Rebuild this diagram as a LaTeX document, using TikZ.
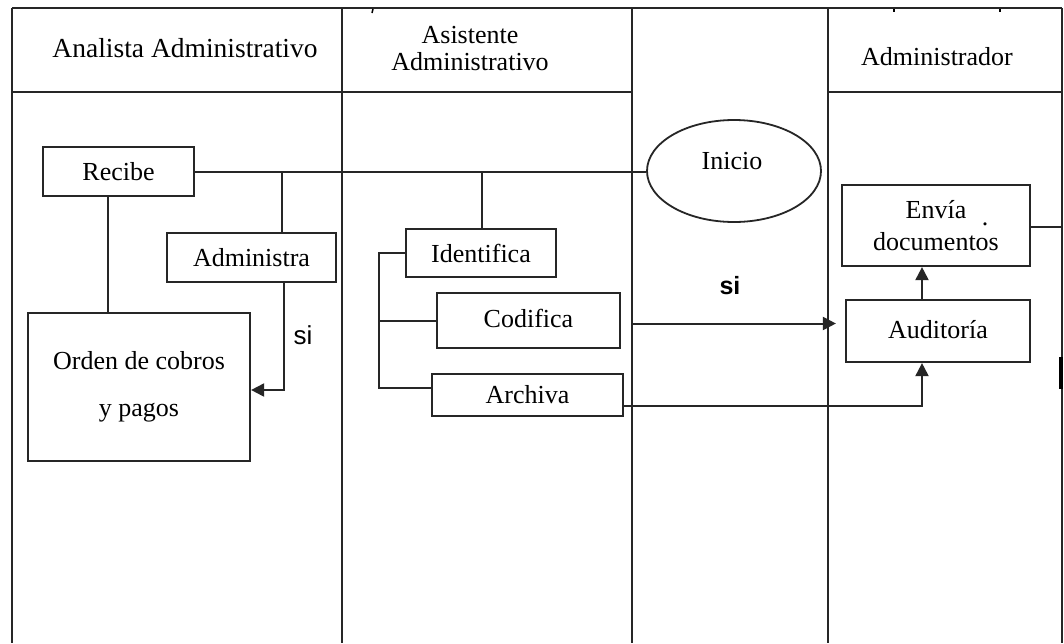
\documentclass[tikz,border=0pt]{standalone}
\usepackage{fontspec}
\setmainfont{Liberation Serif}
\newfontfamily\arialfont{Liberation Sans}
\usetikzlibrary{arrows.meta,shapes.geometric}
\begin{document}
\begin{tikzpicture}[x=1pt,y=-1pt,
  lane/.style={line width=2.2pt,black!85},
  conn/.style={line width=2pt,black!85},
  arr/.style={conn,-{Triangle[length=13pt,width=13pt]}},
  box/.style={draw=black!85,line width=2.2pt,rectangle,inner sep=0pt,
    font=\fontsize{26}{30}\selectfont,align=center},
  head/.style={font=\fontsize{26}{27}\selectfont,align=center,inner sep=0pt},
  silbl/.style={font=\arialfont\fontsize{26}{28}\selectfont,inner sep=0pt}
]
\useasboundingbox (0,0) rectangle (1064,643);
\fill[white] (0,0) rectangle (1064,643);

% lanes
\draw[lane] (12,8) -- (1062,8);
\foreach \x in {12,342,632,828,1062} \draw[lane] (\x,8) -- (\x,643);
\draw[lane] (12,92) -- (632,92);
\draw[lane] (828,92) -- (1062,92);
\draw[line width=4pt] (1061,357) -- (1061,389);
% small ticks at top
\draw[line width=1.5pt] (373,9) -- (372,13);
\draw[line width=1.5pt] (894,9) -- (894,12);
\draw[line width=1.5pt] (1000,9) -- (1000,12);

% headers
\node[head,font=\fontsize{27.5}{28}\selectfont] (h1) at (185,48) {Analista Administrativo};
\node[head] (h2) at (470,49) {Asistente\\Administrativo};
\node[head] (h4) at (937,57) {Administrador};

% nodes
\node[box,minimum width=151pt,minimum height=49pt] (recibe) at (118.5,171.5) {Recibe};
\node[box,minimum width=169pt,minimum height=49pt] (administra) at (251.5,257.5) {Administra};
\node[box,minimum width=222pt,minimum height=148pt,font=\fontsize{26}{47}\selectfont] (orden) at (139,387) {Orden de cobros\\y pagos};
\node[box,minimum width=150pt,minimum height=48pt] (identifica) at (481,253) {Identifica};
\node[box,minimum width=183pt,minimum height=55pt] (codifica) at (528.5,320.5) {\raisebox{4pt}{Codifica}};
\node[box,minimum width=191pt,minimum height=42pt] (archiva) at (527.5,395) {Archiva};
\node[draw=black!85,line width=1.8pt,ellipse,minimum width=174pt,minimum height=102pt,inner sep=0pt] (inicio) at (734,171) {};
\node[inner sep=0pt,font=\fontsize{26}{30}\selectfont] (iniciotxt) at (732,161) {Inicio};
\node[box,minimum width=188pt,minimum height=81pt,font=\fontsize{26}{32}\selectfont] (envia) at (936,225.5) {Envía\\documentos};
\node[inner sep=0pt,font=\fontsize{26}{30}\selectfont] (dot) at (985,224) {.};
\node[box,minimum width=184pt,minimum height=62pt] (auditoria) at (938,331) {\raisebox{4pt}{Auditoría}};

% labels
\node[silbl] (si1) at (303,335) {si};
\node[silbl,font=\arialfont\bfseries\fontsize{25}{28}\selectfont] (si2) at (730,286) {si};

% connectors
\draw[conn] (recibe.east |- 0,172) -- (inicio.west |- 0,172);
\coordinate (j1) at (282,172);
\coordinate (j2) at (482,172);
\draw[conn] (j1) -- (j1 |- administra.north);
\draw[conn] (j2) -- (j2 |- identifica.north);
\draw[conn] ([xshift=-10.5pt]recibe.south) -- ([xshift=-10.5pt]recibe.south |- orden.north);
\draw[arr] ([xshift=32.5pt]administra.south) |- ([yshift=-3pt]orden.east);
\draw[conn] (identifica.west) -- ++(-26,0) coordinate (b1) |- ([yshift=7pt]archiva.west);
\draw[conn] (b1 |- codifica.west) -- (codifica.west);
\coordinate (c1) at (633,323.5);
\draw[arr,shorten >=9pt] (c1) -- (c1 -| auditoria.west);
\draw[arr] ([yshift=-11pt]archiva.east) -| ([xshift=-16pt]auditoria.south);
\draw[arr] ([xshift=-16pt]auditoria.north) -- ([xshift=-16pt]auditoria.north |- envia.south);
\coordinate (e1) at (1062,227);
\draw[conn] (envia.east |- e1) -- (e1);
\end{tikzpicture}
\end{document}
